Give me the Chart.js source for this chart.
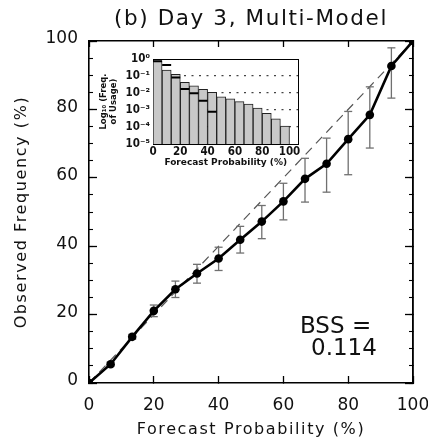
<!DOCTYPE html>
<html><head><meta charset="utf-8">
<script src="https://cdn.jsdelivr.net/npm/chart.js@4.4.1/dist/chart.umd.min.js"></script>
<style>
html,body{margin:0;padding:0;background:#fff;}
#wrap{position:relative;width:428px;height:442px;overflow:hidden;background:#fff;}
#main{position:absolute;left:0;top:0;}
#inset{position:absolute;left:98px;top:50px;}
.bss{position:absolute;font-family:"DejaVu Sans";font-size:23px;line-height:23px;color:#111;white-space:nowrap;}
</style></head>
<body>
<div id="wrap">
<canvas id="main" width="428" height="442"></canvas>
<canvas id="inset" width="207" height="122"></canvas>
<div class="bss" style="left:300px;top:314px;">BSS =</div>
<div class="bss" style="left:311px;top:335.5px;">0.114</div>
</div>
<script>
// ---------- data ----------
const probX  = [0, 6.67, 13.33, 20, 26.67, 33.33, 40, 46.67, 53.33, 60, 66.67, 73.33, 80, 86.67, 93.33, 100];
const obsY   = [0, 5.5, 13.5, 21.1, 27.4, 32.0, 36.4, 41.9, 47.2, 53.1, 59.7, 64.1, 71.3, 78.4, 92.7, 100];
const errLo  = [null, 5.0, 12.8, 19.4, 25.0, 29.2, 32.9, 38.0, 42.2, 47.7, 52.9, 55.8, 60.9, 68.7, 83.3, null];
const errHi  = [null, 6.0, 14.2, 22.8, 29.8, 34.7, 39.7, 45.8, 51.9, 58.4, 65.7, 71.6, 79.4, 86.6, 98.0, null];
const diagX  = [0, 100];
const diagY  = [0, 100];
const mainXTicks = [0, 20, 40, 60, 80, 100];
const mainYTicks = [0, 20, 40, 60, 80, 100];

const insetBinX  = [3.33, 10, 16.67, 23.33, 30, 36.67, 43.33, 50, 56.67, 63.33, 70, 76.67, 83.33, 90, 96.67];
const usageFreq  = [0.79, 0.22, 0.126, 0.043, 0.026, 0.0166, 0.011, 0.006, 0.0045, 0.0031, 0.0022, 0.0013, 0.00064, 0.0003, 0.000115];
const refBinX    = [3.33, 10, 16.67, 23.33, 30, 36.67, 43.33];
const refFreq    = [0.73, 0.44, 0.083, 0.017, 0.0096, 0.0035, 0.0008];
const insetXTicks  = [0, 20, 40, 60, 80, 100];
const insetYTicks  = [1e-5, 1e-4, 1e-3, 1e-2, 1e-1, 1];
const insetYLabels = ['10\u207B\u2075', '10\u207B\u2074', '10\u207B\u00B3', '10\u207B\u00B2', '10\u207B\u00B9', '10\u2070'];

// ---------- derived structures ----------
const mainPts = probX.map((x, i) => ({x, y: obsY[i]}));
const stems = [];
const caps = [];
probX.forEach((x, i) => {
  if (errLo[i] != null) {
    stems.push({x, y: errLo[i]}, {x, y: errHi[i]}, {x, y: null});
    caps.push({x, y: errLo[i]}, {x, y: errHi[i]});
  }
});
const diagPts = diagX.map((x, i) => ({x, y: diagY[i]}));

const spacing = {
  id: 'spacing',
  beforeDraw(chart, args, opts) { chart.ctx.letterSpacing = (opts.px || 0) + 'px'; },
  beforeDatasetsDraw(chart) { chart.ctx.letterSpacing = '0px'; }
};

const FAM = 'DejaVu Sans';
const tickFont = {family: FAM, size: 17};
const setTicks = arr => s => { s.ticks = arr.map(v => ({value: v})); };
const fixW = w => s => { s.width = w; s.paddingTop = 0; s.paddingBottom = 0; s.paddingLeft = 0; s.paddingRight = 0; };
const fixH = h => s => { s.height = h; s.paddingLeft = 0; s.paddingRight = 0; s.paddingTop = 0; s.paddingBottom = 0; };
const frame = {display: true, color: '#000', width: 1.6};

new Chart(document.getElementById('main'), {
  type: 'line',
  data: {
    datasets: [
      {data: mainPts, borderColor: '#000', borderWidth: 2.6, pointRadius: 4.3, pointBackgroundColor: '#000',
       pointBorderWidth: 0, clip: 0, tension: 0},
      {data: caps, showLine: false, pointStyle: 'line', pointRadius: 4, pointBorderWidth: 1.3,
       pointBorderColor: '#707070', pointBackgroundColor: '#707070'},
      {data: stems, borderColor: '#707070', borderWidth: 1.3, pointRadius: 0, spanGaps: false},
      {data: diagPts, borderColor: '#555', borderWidth: 1.2, borderDash: [9, 6], pointRadius: 0}
    ]
  },
  options: {
    responsive: false, animation: false,
    layout: {padding: {left: 0, right: 15, top: 0, bottom: 0}},
    plugins: {
      legend: {display: false}, tooltip: {enabled: false},
      spacing: {px: 1.6},
      title: {display: true, text: '(b) Day 3, Multi-Model', fullSize: false, color: '#111',
              font: {family: FAM, size: 21.5, weight: 'normal'}, padding: {top: 7, bottom: 8.2}}
    },
    scales: {
      x: {type: 'linear', position: 'bottom', min: 0, max: 100, weight: 1,
          afterBuildTicks: setTicks(mainXTicks), afterFit: fixH(59),
          ticks: {font: tickFont, color: '#111', padding: 19, z: 1, maxRotation: 0, autoSkip: false},
          grid: {drawOnChartArea: false, drawTicks: true, tickLength: -7, tickColor: '#000', tickWidth: 1.3},
          border: frame,
          title: {display: true, text: 'Forecast Probability (%)', color: '#111',
                  font: {family: FAM, size: 16}, padding: {top: 0, bottom: 3}}},
      xTop: {type: 'linear', position: 'top', min: 0, max: 100,
          afterBuildTicks: setTicks(mainXTicks), afterFit: fixH(0),
          ticks: {display: false},
          grid: {drawOnChartArea: false, drawTicks: true, tickLength: -6, tickColor: '#000', tickWidth: 1.3},
          border: frame},
      y: {type: 'linear', position: 'left', min: 0, max: 100, weight: 1,
          afterBuildTicks: setTicks(mainYTicks), afterFit: fixW(89),
          ticks: {font: tickFont, color: '#111', padding: 19, z: 1, labelOffset: -2, autoSkip: false},
          grid: {drawOnChartArea: false, drawTicks: true, tickLength: -8, tickColor: '#000', tickWidth: 1.3},
          border: frame,
          title: {display: true, text: 'Observed Frequency (%)', color: '#111',
                  font: {family: FAM, size: 16}, padding: {top: 12, bottom: 0}}},
      yMinor: {type: 'linear', position: 'left', min: 0, max: 100, weight: 0, afterFit: fixW(0),
          ticks: {display: false, stepSize: 5},
          grid: {drawOnChartArea: false, drawTicks: true, tickLength: -4, tickColor: '#000', tickWidth: 1.1},
          border: {display: false}},
      yR: {type: 'linear', position: 'right', min: 0, max: 100, afterFit: fixW(0),
          ticks: {display: false, stepSize: 5},
          grid: {drawOnChartArea: false, drawTicks: true, tickLength: -4, tickColor: '#000', tickWidth: 1.1},
          border: frame},
      yRMajor: {type: 'linear', position: 'right', min: 0, max: 100, afterFit: fixW(0),
          afterBuildTicks: setTicks(mainYTicks),
          ticks: {display: false},
          grid: {drawOnChartArea: false, drawTicks: true, tickLength: -8, tickColor: '#000', tickWidth: 1.3},
          border: frame}
    }
  },
  plugins: [spacing]
});

// ---------- inset histogram ----------
const insFont = {family: FAM, size: 9, weight: 'bold'};
const insTickFont = {family: "'Liberation Sans Narrow', 'DejaVu Sans Condensed', 'DejaVu Sans'", size: 11.5, weight: 'bold'};
new Chart(document.getElementById('inset'), {
  data: {
    datasets: [
      {type: 'line', data: refBinX.map((x, i) => ({x, y: refFreq[i]})), showLine: false,
       pointStyle: 'line', pointRadius: 4.5, pointBorderWidth: 2, pointBorderColor: '#000', order: 0},
      {type: 'bar', data: insetBinX.map((x, i) => ({x, y: usageFreq[i]})),
       backgroundColor: '#c8c8c8', borderColor: '#222', borderWidth: 1,
       barPercentage: 1, categoryPercentage: 1, order: 1}
    ]
  },
  options: {
    responsive: false, animation: false,
    layout: {padding: {left: 0, right: 6, top: 9, bottom: 0}},
    plugins: {legend: {display: false}, tooltip: {enabled: false}},
    scales: {
      x: {type: 'linear', position: 'bottom', min: 0, max: 106.6, offset: false,
          afterBuildTicks: setTicks(insetXTicks), afterFit: fixH(28),
          ticks: {font: insTickFont, color: '#111', padding: 1, maxRotation: 0, autoSkip: false},
          grid: {drawOnChartArea: false, drawTicks: false, offset: false},
          border: {display: true, color: '#000', width: 1},
          title: {display: true, text: 'Forecast Probability (%)', color: '#111', font: insFont,
                  padding: {top: 0, bottom: 4}}},
      xTop: {type: 'linear', position: 'top', min: 0, max: 106.6, offset: false, afterFit: fixH(0),
          ticks: {display: false}, grid: {display: false},
          border: {display: true, color: '#000', width: 1}},
      y: {type: 'logarithmic', position: 'left', min: 1e-5, max: 1,
          afterBuildTicks: setTicks(insetYTicks), afterFit: fixW(55),
          ticks: {font: insTickFont, color: '#111', padding: 3, autoSkip: false,
                  callback: (v, i) => insetYLabels[i]},
          grid: {drawTicks: false, lineWidth: 1.2,
                 color: c => (c.tick && c.tick.value > 1e-5 && c.tick.value < 1) ? '#444' : 'rgba(0,0,0,0)'},
          border: {display: true, color: '#000', width: 1, dash: [2, 5.5]},
          title: {display: true, text: ['Log\u2081\u2080 (Freq.', 'of Usage)'], color: '#111',
                  font: {family: FAM, size: 8.5, weight: 'bold', lineHeight: 1.15}, padding: {top: 1, bottom: 0}}},
      yR: {type: 'logarithmic', position: 'right', min: 1e-5, max: 1, afterFit: fixW(0),
          ticks: {display: false}, grid: {display: false},
          border: {display: true, color: '#000', width: 1}}
    }
  }
});
</script>
</body></html>
